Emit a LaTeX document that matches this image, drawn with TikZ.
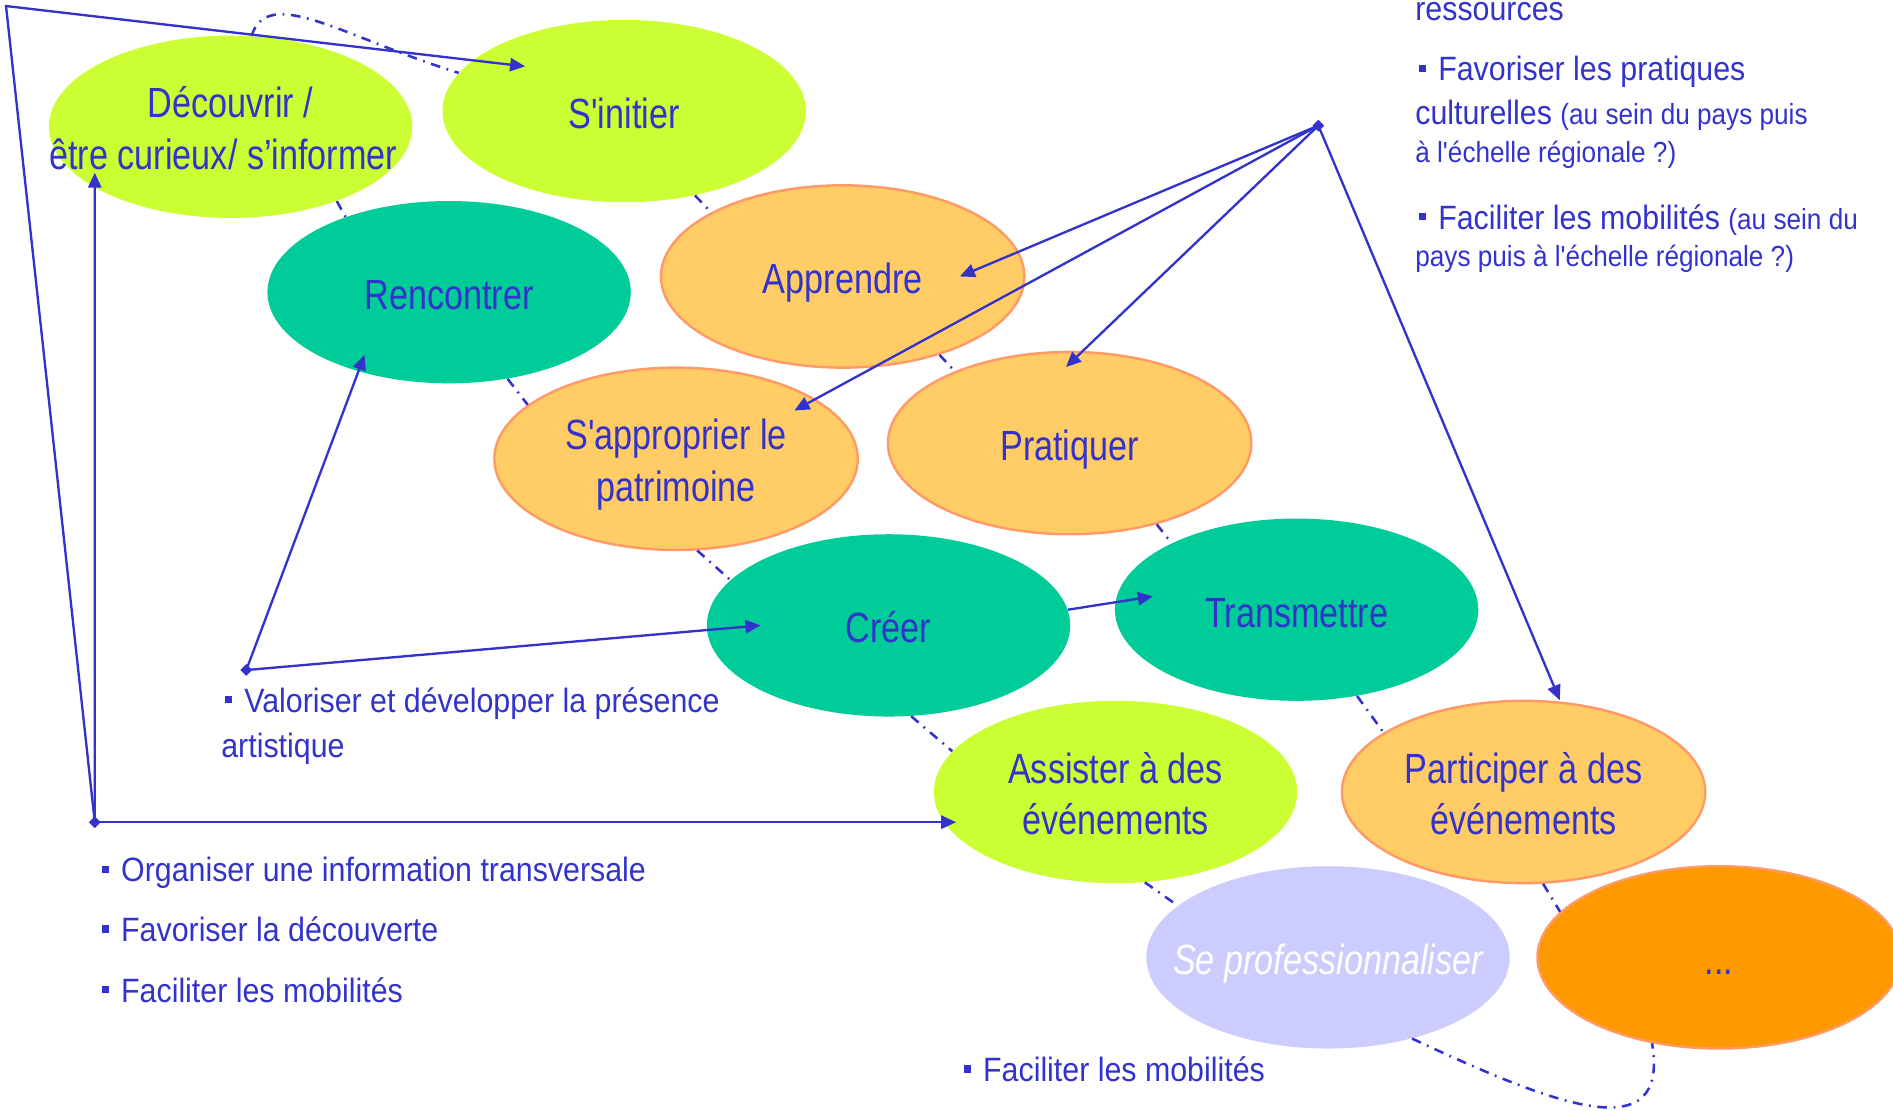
\documentclass[tikz,border=0pt]{standalone}
\usepackage{fontspec}
\setmainfont{Liberation Sans}
\newfontfamily\ellfont[FakeStretch=0.81,Ligatures=TeXOff]{Liberation Sans}
\newfontfamily\txtfont[FakeStretch=0.9,Ligatures=TeXOff]{Liberation Sans}
\usetikzlibrary{arrows.meta,positioning,calc,shapes.geometric}

\definecolor{bleu}{RGB}{51,51,204}
\definecolor{citron}{RGB}{204,255,51}
\definecolor{turquoise}{RGB}{0,204,153}
\definecolor{abricot}{RGB}{255,204,102}
\definecolor{saumon}{RGB}{255,153,102}
\definecolor{lavande}{RGB}{204,204,255}
\definecolor{orangevif}{RGB}{255,153,0}

\newcommand\puce{\rule[1.5mm]{1.2mm}{1.2mm}\hspace{2mm}}
\newcommand\nar[1]{\makebox[0pt]{#1}}
\newcommand\haut[1]{\rule{0pt}{#1}}
\newcommand\petit{\fontsize{13.7}{16}\selectfont}

\begin{document}
\begin{tikzpicture}[x=0.2mm,y=-0.2mm,
  ell/.style={ellipse, minimum width=60.2mm, minimum height=30.2mm, inner sep=0pt,
              align=center, text=bleu, font=\ellfont\fontsize{19.9}{24.2}\selectfont},
  une/.style={text height=5.8mm, text depth=0pt},
  jaune/.style={ell, fill=citron},
  vert/.style={ell, fill=turquoise},
  abri/.style={ell, fill=abricot, draw=saumon, line width=0.4mm},
  lien/.style={bleu, line width=1.2pt, dash pattern=on 1.6mm off 1.1mm on 0.3mm off 1.1mm},
  fleche/.style={bleu, line width=1.1pt, -{Triangle[length=2.5mm,width=2.2mm]}},
  hub/.style={diamond, fill=bleu, inner sep=0pt, minimum size=2mm},
  txt/.style={anchor=base west, inner sep=0pt, text=bleu,
              font=\txtfont\fontsize{15.9}{19}\selectfont}]
  \useasboundingbox (0,0) rectangle (1568,920);

  % bulles
  \node[jaune] (dec) at (191,105) {\haut{5.6mm}Découvrir /\\\nar{être curieux/ s’informer\hspace{2.4mm}}};
  \node[jaune, une] (ini) at (517,92) {S'initier};
  \node[vert, une] (ren) at (372,242) {Rencontrer};
  \node[abri, une] (app) at (698,229) {Apprendre};
  \node[abri] (sap) at (560,380) {\haut{7mm}S'approprier le\\patrimoine};
  \node[abri, une] (pra) at (886,367) {Pratiquer};
  \node[vert, une] (cre) at (736,518) {Créer};
  \node[vert, une] (tra) at (1074,505) {Transmettre};
  \node[jaune] (ass) at (924,656) {\haut{5.8mm}Assister à des\\événements};
  \node[abri] (par) at (1262,656) {\haut{5.8mm}Participer à des\\événements};
  \node[ell, une, fill=lavande, text=white] (pro) at (1100,793) {\itshape\nar{Se professionnaliser}};
  \node[ell, une, fill=orangevif, draw=saumon, line width=0.4mm] (suite) at (1424,793) {...};

  % liens pointilles
  \draw[lien] (dec.-35) -- (ren.144);
  \draw[lien] (ren.-56) -- (sap.160);
  \draw[lien] (sap.-77) -- (cre.164);
  \draw[lien] (cre.-76) -- (ass.166);
  \draw[lien] (ass.-72) -- (pro.161);
  \draw[lien] (ini.-50) -- (app.154);
  \draw[lien] (app.-39) -- (pra.148);
  \draw[lien] (pra.-43) -- (tra.152);
  \draw[lien] (tra.-55) -- (par.157);
  \draw[lien] (par.-78) -- (suite.164);
  \draw[lien] (dec.77) .. controls +(13.5,-42.75) and +(-95.5,-29.6) .. (ini.167);
  \draw[lien] (pro.-44) .. controls +(118,55) and +(15,89) .. (suite.-128);

  % textes
  \node[txt] (t1) at (84,730.5) {\puce Organiser une information transversale};
  \node[txt] (t2) at (84,780) {\puce Favoriser la découverte};
  \node[txt] (t3) at (84,830) {\puce Faciliter les mobilités};
  \node[txt] (v1) at (186,590) {\puce Valoriser et développer la présence};
  \node[txt] (v2) at (183,627.5) {artistique};
  \node[txt] (r0) at (1172,17) {ressources};
  \node[txt] (r1) at (1175,67) {\puce Favoriser les pratiques};
  \node[txt] (r2) at (1172,103) {culturelles {\petit(au sein du pays puis}};
  \node[txt] (r3) at (1172,135) {\petit à l'échelle régionale ?)};
  \node[txt] (r4) at (1175,190) {\puce Faciliter les mobilités {\petit(au sein du}};
  \node[txt] (r5) at (1172,221) {\petit pays puis à l'échelle régionale ?)};
  \node[txt] (b1) at (798,896) {\puce Faciliter les mobilités};

  % fleches
  \node[hub] (hubL) at (78.5,681) {};
  \node[hub] (hubV) at (204,555) {};
  \node[hub] (hubR) at (1092,104) {};
  \coordinate (coin) at (5,5);
  \draw[fleche] (hubL.center) -- ($(dec)+(-112.5,38)$);
  \draw[fleche] (hubL.center) -- (coin) -- ($(ini)+(-82,-37)$);
  \draw[fleche] (hubL.center) -- ($(ass)+(-132,25)$);
  \draw[fleche] (hubV.center) -- ($(ren)+(-70,52)$);
  \draw[fleche] (hubV.center) -- ($(cre)+(-106,0)$);
  \draw[fleche] (cre.5) -- ($(tra)+(-119,-11)$);
  \draw[fleche] (hubR.center) -- ($(app)+(97,0)$);
  \draw[fleche] (hubR.center) -- ($(sap)+(98,-40)$);
  \draw[fleche] (hubR.center) -- ($(pra)+(-3,-63)$);
  \draw[fleche] (hubR.center) -- ($(par)+(30,-76)$);
\end{tikzpicture}
\end{document}
